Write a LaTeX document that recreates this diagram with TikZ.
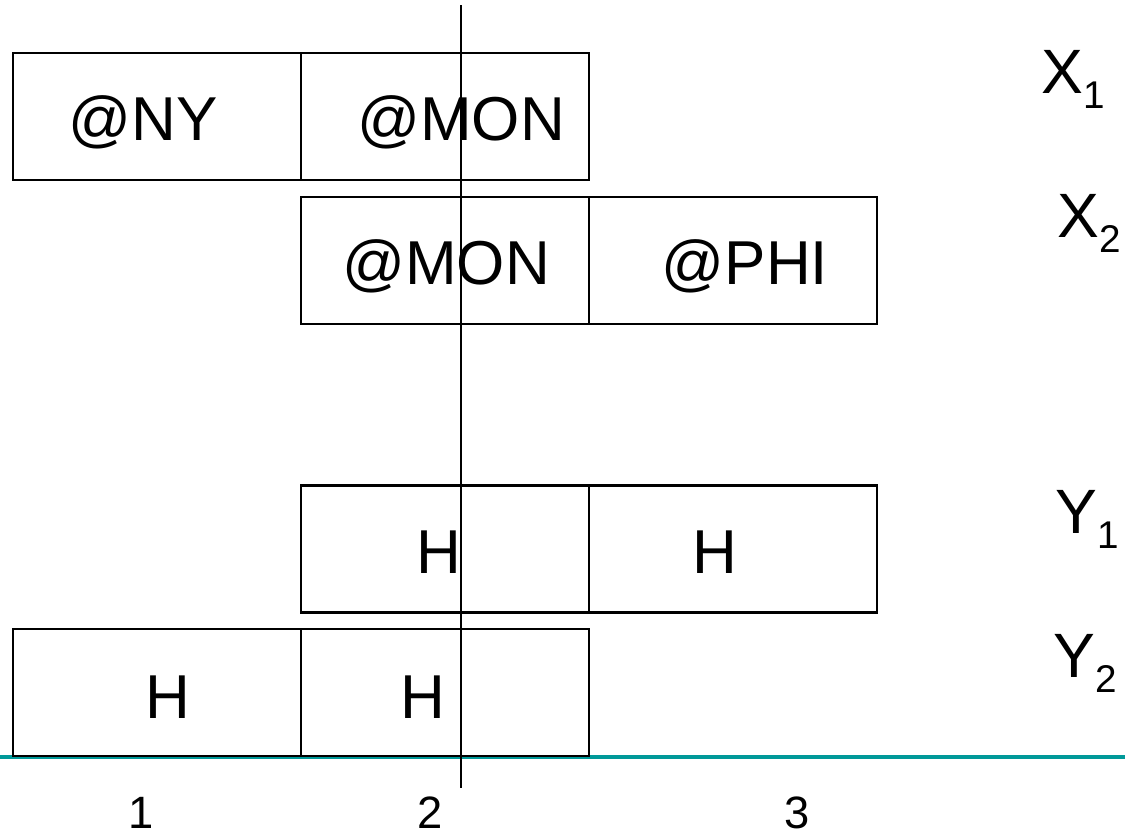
\documentclass[tikz,border=0pt]{standalone}
\usepackage{fontspec}
\setmainfont{Liberation Sans}
\begin{document}
\begin{tikzpicture}[x=0.75pt,y=-0.75pt,
  cell/.style={draw=black, line width=2pt, minimum width=216pt, minimum height=95.25pt, inner sep=0pt},
  celltext/.style={anchor=base, inner sep=0pt, font=\fontsize{46.5}{50}\selectfont},
  rowlabel/.style={anchor=base west, inner sep=0pt, font=\fontsize{47}{50}\selectfont},
  ticklabel/.style={anchor=base, inner sep=0pt, font=\fontsize{34}{36}\selectfont}]
  \useasboundingbox (0,0) rectangle (1125,833);
  \definecolor{axisteal}{RGB}{0,153,153}
  % time axis
  \coordinate (axL) at (0,757);
  \coordinate (axR) at (1125,757);
  \draw[axisteal, line width=3pt] (axL) -- (axR);
  % cells of each row
  \node[cell] (x1a) at (157,116.5) {};
  \node[cell] (x1b) at (445,116.5) {};
  \node[cell] (x2a) at (445,260.5) {};
  \node[cell] (x2b) at (733,260.5) {};
  \node[cell] (y1a) at (445,549) {};
  \node[cell] (y1b) at (733,549) {};
  \node[cell] (y2a) at (157,692.5) {};
  \node[cell] (y2b) at (445,692.5) {};
  % cell contents
  \node[celltext] (t1) at (143,140) {@NY};
  \node[celltext] (t2) at (461,140) {@MON};
  \node[celltext] (t3) at (446,284) {@MON};
  \node[celltext] (t4) at (745,284) {@PHI};
  \node[celltext] (t5) at (439,573) {H};
  \node[celltext] (t6) at (715,573) {H};
  \node[celltext] (t7) at (168,718) {H};
  \node[celltext] (t8) at (423,718) {H};
  % row labels
  \node[rowlabel] (lx1) at (1041,93) {X\raisebox{-11.25pt}{\fontsize{29}{30}\selectfont 1}};
  \node[rowlabel] (lx2) at (1057,237) {X\raisebox{-11.25pt}{\fontsize{29}{30}\selectfont 2}};
  \node[rowlabel] (ly1) at (1055,533) {Y\raisebox{-11.25pt}{\fontsize{29}{30}\selectfont 1}};
  \node[rowlabel] (ly2) at (1053,677) {Y\raisebox{-11.25pt}{\fontsize{29}{30}\selectfont 2}};
  % tick labels
  \node[ticklabel] (n1) at (141,828) {1};
  \node[ticklabel] (n2) at (430,828) {2};
  \node[ticklabel] (n3) at (797,828) {3};
  % current-time marker
  \coordinate (mT) at (461,5);
  \coordinate (mB) at (461,788);
  \draw[black, line width=1.5pt] (mT) -- (mB);
\end{tikzpicture}
\end{document}
